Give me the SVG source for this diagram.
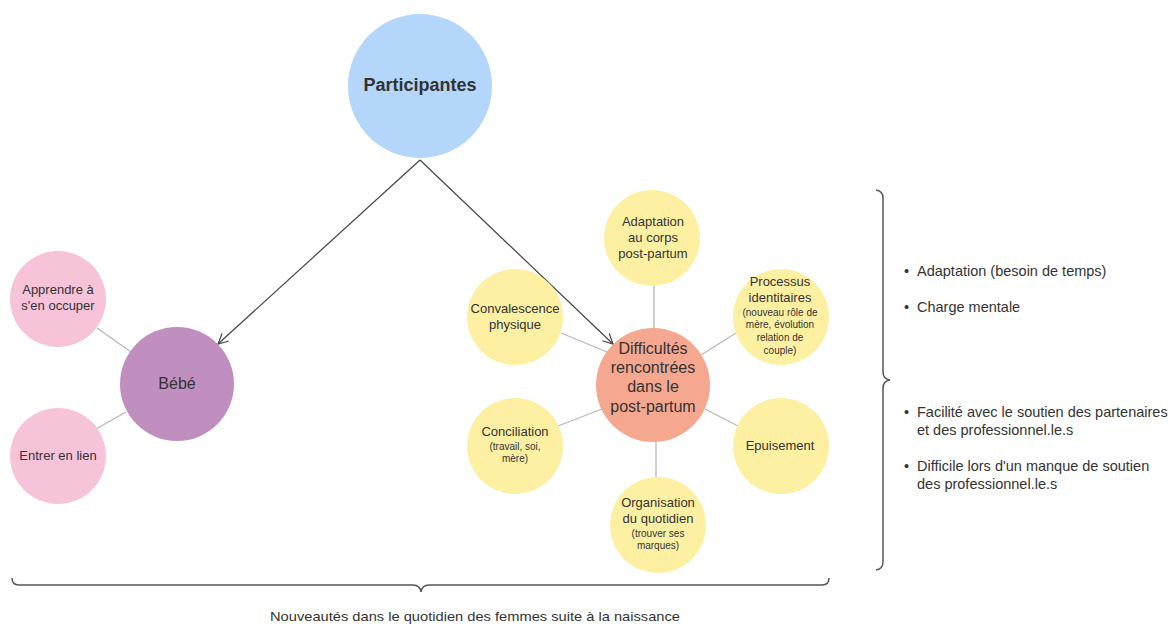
<svg xmlns="http://www.w3.org/2000/svg" width="1173" height="624" viewBox="0 0 1173 624">
<defs>
<style>
text{font-family:"Liberation Sans",Arial,sans-serif;fill:#333;text-anchor:middle}
.n{font-size:13px}
.s{font-size:10px}
.b{font-size:16px}
.t{font-size:14.5px;text-anchor:start}
.sp{stroke:#b8b8b8;stroke-width:1.3;fill:none}
.ar{stroke:#444;stroke-width:1.2;fill:none}
.br{stroke:#555;stroke-width:1.5;fill:none}
.y{fill:#fdf0a3}
.p{fill:#f6c3d9}
</style>
<marker id="ah" viewBox="0 0 12 12" refX="11" refY="6" markerWidth="12" markerHeight="12" markerUnits="userSpaceOnUse" orient="auto">
<path d="M1,1 L11,6 L1,11" fill="none" stroke="#444" stroke-width="1.2"/>
</marker>
</defs>
<rect width="1173" height="624" fill="#fff"/>
<g id="connectors">
<line class="ar" x1="420" y1="160" x2="218" y2="344" marker-end="url(#ah)"/>
<line class="ar" x1="420" y1="160" x2="613" y2="344" marker-end="url(#ah)"/>
<line class="sp" x1="97" y1="328" x2="131" y2="352"/>
<line class="sp" x1="96" y1="429" x2="126" y2="412"/>
<line class="sp" x1="654" y1="285" x2="654" y2="329"/>
<line class="sp" x1="736" y1="333" x2="701" y2="355"/>
<line class="sp" x1="561" y1="333" x2="607" y2="352"/>
<line class="sp" x1="558" y1="426" x2="602" y2="409"/>
<line class="sp" x1="705" y1="409" x2="738" y2="426"/>
<line class="sp" x1="656" y1="441" x2="656" y2="477"/>
</g>
<g id="participantes">
<circle cx="420" cy="86" r="72" fill="#b4d6fb"/>
<text x="420" y="91" style="font-size:18px;font-weight:bold">Participantes</text>
</g>
<g id="bebe">
<circle cx="177" cy="384" r="57" fill="#c08fc0"/>
<text class="b" x="177" y="389">Bébé</text>
</g>
<g id="apprendre">
<circle class="p" cx="58" cy="299" r="48"/>
<text class="n" x="58" y="294">Apprendre à</text>
<text class="n" x="58" y="310">s'en occuper</text>
</g>
<g id="entrer">
<circle class="p" cx="58" cy="456" r="48"/>
<text class="n" x="58" y="460">Entrer en lien</text>
</g>
<g id="difficultes">
<circle cx="653" cy="385" r="57" fill="#f5a88f"/>
<text class="b" x="653" y="354">Difficultés</text>
<text class="b" x="653" y="373">rencontrées</text>
<text class="b" x="653" y="392">dans le</text>
<text class="b" x="653" y="412">post-partum</text>
</g>
<g id="adaptation">
<circle class="y" cx="652" cy="238" r="48"/>
<text class="n" x="653" y="226">Adaptation</text>
<text class="n" x="653" y="242">au corps</text>
<text class="n" x="653" y="258">post-partum</text>
</g>
<g id="processus">
<circle class="y" cx="781" cy="317" r="48"/>
<text class="n" x="780" y="286">Processus</text>
<text class="n" x="780" y="302">identitaires</text>
<text class="s" x="780" y="316">(nouveau rôle de</text>
<text class="s" x="780" y="328">mère, évolution</text>
<text class="s" x="780" y="341">relation de</text>
<text class="s" x="780" y="354">couple)</text>
</g>
<g id="convalescence">
<circle class="y" cx="515" cy="317" r="48"/>
<text class="n" x="515" y="313">Convalescence</text>
<text class="n" x="515" y="329">physique</text>
</g>
<g id="conciliation">
<circle class="y" cx="515" cy="446" r="48"/>
<text class="n" x="515" y="436">Conciliation</text>
<text class="s" x="515" y="450">(travail, soi,</text>
<text class="s" x="515" y="462">mère)</text>
</g>
<g id="epuisement">
<circle class="y" cx="781" cy="446" r="48"/>
<text class="n" x="780" y="450">Epuisement</text>
</g>
<g id="organisation">
<circle class="y" cx="658" cy="525" r="48"/>
<text class="n" x="658" y="507">Organisation</text>
<text class="n" x="658" y="523">du quotidien</text>
<text class="s" x="658" y="537">(trouver ses</text>
<text class="s" x="658" y="549">marques)</text>
</g>
<g id="right-brace">
<path class="br" d="M876,190 Q883,191 883,198 L883,372 Q883,379 890,380 Q883,381 883,388 L883,562 Q883,569 876,570"/>
<text class="t" x="904" y="276">•</text>
<text class="t" x="917" y="276">Adaptation (besoin de temps)</text>
<text class="t" x="904" y="312">•</text>
<text class="t" x="917" y="312">Charge mentale</text>
<text class="t" x="904" y="417">•</text>
<text class="t" x="917" y="417">Facilité avec le soutien des partenaires</text>
<text class="t" x="917" y="435">et des professionnel.le.s</text>
<text class="t" x="904" y="471">•</text>
<text class="t" x="917" y="471">Difficile lors d'un manque de soutien</text>
<text class="t" x="917" y="489">des professionnel.le.s</text>
</g>
<g id="bottom-brace">
<path class="br" d="M12,578 Q12,585 19,585 L413,585 Q420,585 421,592 Q422,585 429,585 L822,585 Q829,585 829,578"/>
<text x="475" y="621" style="font-size:13.5px" textLength="410" lengthAdjust="spacingAndGlyphs">Nouveautés dans le quotidien des femmes suite à la naissance</text>
</g>
</svg>
